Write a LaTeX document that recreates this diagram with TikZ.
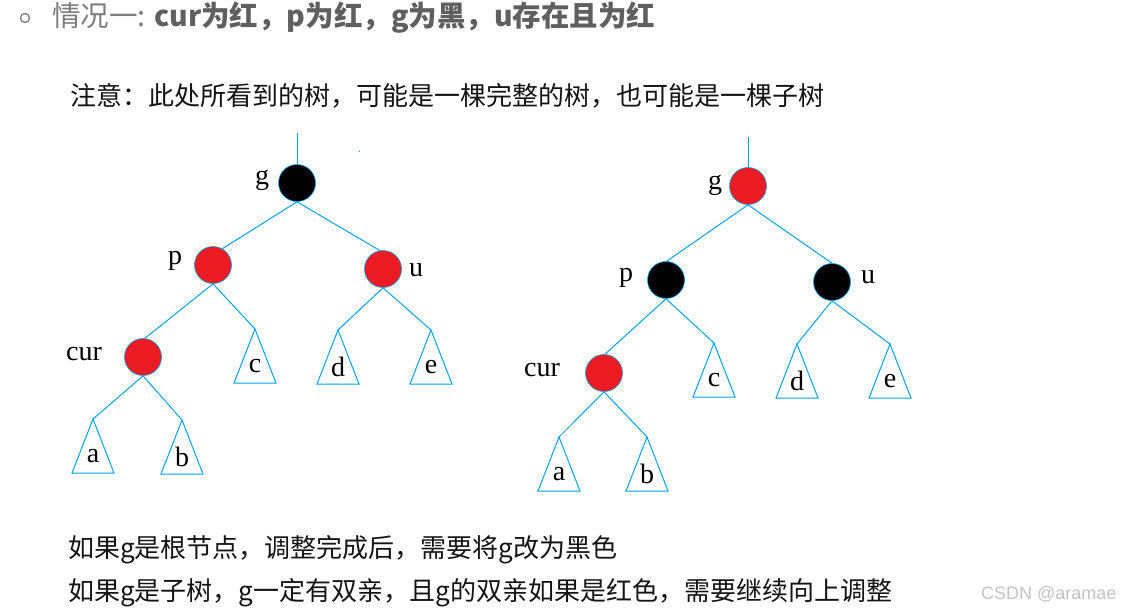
\documentclass[tikz,border=0pt]{standalone}
\usepackage{fontspec}
\newfontfamily\cjk{Noto Sans CJK SC}
\newfontfamily\lserif{Liberation Serif}
\newfontfamily\lsans{Liberation Sans}
\definecolor{treeblue}{RGB}{0,162,232}
\definecolor{nodered}{RGB}{237,28,36}
\definecolor{hgray}{RGB}{125,125,125}
\definecolor{hdark}{RGB}{95,95,95}
\definecolor{wmark}{RGB}{195,195,195}
\definecolor{bodytext}{RGB}{20,20,20}
\tikzset{
  treeline/.style={draw=treeblue, line width=1pt},
  rbnode/.style={circle, minimum size=37pt, inner sep=0pt, draw=treeblue, line width=0.6pt},
  rednode/.style={rbnode, fill=nodered},
  blacknode/.style={rbnode, fill=black},
  lbl/.style={inner sep=0pt, font=\lserif\fontsize{28}{30}\selectfont},
  bodyline/.style={anchor=west, inner sep=0pt, text=bodytext, font=\cjk\fontsize{26}{30}\selectfont},
  pics/subtree/.style={code={
    \draw[treeline] (0,0) -- (-21,54) -- (21,54) -- cycle;
    \node[lbl] at (0,37) {#1};
  }}
}
\begin{document}
\begin{tikzpicture}[x=1pt,y=-1pt]
\useasboundingbox[fill=white] (0,0) rectangle (1139,614);

% header
\draw[hgray, line width=1.3pt] (25,18) circle (4.5);
\node[anchor=west, inner sep=0pt, font=\cjk\fontsize{28.5}{31}\selectfont, text=hgray] (head) at (52,18)
  {情况一: {\color{hdark}\bfseries cur为红，p为红，g为黑，u存在且为红}};

\node[bodyline] (note) at (70,96) {注意：此处所看到的树，可能是一棵完整的树，也可能是一棵子树};

% ---------------- left tree ----------------
\coordinate (Ltop) at (297,133);
\node[blacknode] (Lg) at (297,183) {};
\node[rednode] (Lp) at (213,265) {};
\node[rednode] (Lu) at (383,269) {};
\node[rednode] (Lcur) at (143,357) {};
\node[lbl] (Lglbl) at (262,180) {g};
\node[lbl] (Lplbl) at (175,261) {p};
\node[lbl] (Lulbl) at (416,270) {u};
\node[lbl] (Lcurlbl) at (84,354) {cur};
\coordinate (La) at (93,419);
\coordinate (Lb) at (182,420);
\coordinate (Lc) at (255,329);
\coordinate (Ld) at (338,330);
\coordinate (Le) at (431,330);
\pic at (La) {subtree=a};
\pic at (Lb) {subtree=b};
\pic at (Lc) {subtree=c};
\pic at (Ld) {subtree=d};
\pic at (Le) {subtree=e};
\draw[treeline] (Ltop) -- (Lg.north);
\draw[treeline] (Lg.south) -- (Lp.60);
\draw[treeline] (Lg.south) -- (Lu.100);
\draw[treeline] (Lp.south) -- (Lcur.84);
\draw[treeline] (Lp.south) -- (Lc);
\draw[treeline] (Lu.south) -- (Ld);
\draw[treeline] (Lu.south) -- (Le);
\draw[treeline] (Lcur.south) -- (La);
\draw[treeline] (Lcur.south) -- (Lb);
\fill[treeblue] (358.5,150.5) rectangle (360,152);

% ---------------- right tree ----------------
\coordinate (Rtop) at (748,137);
\node[rednode] (Rg) at (748,186) {};
\node[blacknode] (Rp) at (666,280) {};
\node[blacknode] (Ru) at (832,282) {};
\node[rednode] (Rcur) at (604,373) {};
\node[lbl] (Rglbl) at (715,185) {g};
\node[lbl] (Rplbl) at (626,278) {p};
\node[lbl] (Rulbl) at (868,277) {u};
\node[lbl] (Rcurlbl) at (542,370) {cur};
\coordinate (Ra) at (559,437);
\coordinate (Rb) at (647,437);
\coordinate (Rc) at (714,343);
\coordinate (Rd) at (797,344);
\coordinate (Re) at (890,344);
\pic at (Ra) {subtree=a};
\pic at (Rb) {subtree=b};
\pic at (Rc) {subtree=c};
\pic at (Rd) {subtree=d};
\pic at (Re) {subtree=e};
\draw[treeline] (Rtop) -- (Rg.north);
\draw[treeline] (Rg.south) -- (Rp.88);
\draw[treeline] (Rg.south) -- (Ru.90);
\draw[treeline] (Rp.south) -- (Rcur.87);
\draw[treeline] (Rp.south) -- (Rc);
\draw[treeline] (Ru.south) -- (Rd);
\draw[treeline] (Ru.south) -- (Re);
\draw[treeline] (Rcur.south) -- (Ra);
\draw[treeline] (Rcur.south) -- (Rb);

% bottom text
\node[bodyline] (line1) at (68,550) {如果g是根节点，调整完成后，需要将g改为黑色};
\node[bodyline] (line2) at (68,593) {如果g是子树，g一定有双亲，且g的双亲如果是红色，需要继续向上调整};
\node[anchor=west, inner sep=0pt, text=wmark, font=\lsans\fontsize{18}{20}\selectfont] (wm) at (981,594) {CSDN @aramae};
\end{tikzpicture}
\end{document}
